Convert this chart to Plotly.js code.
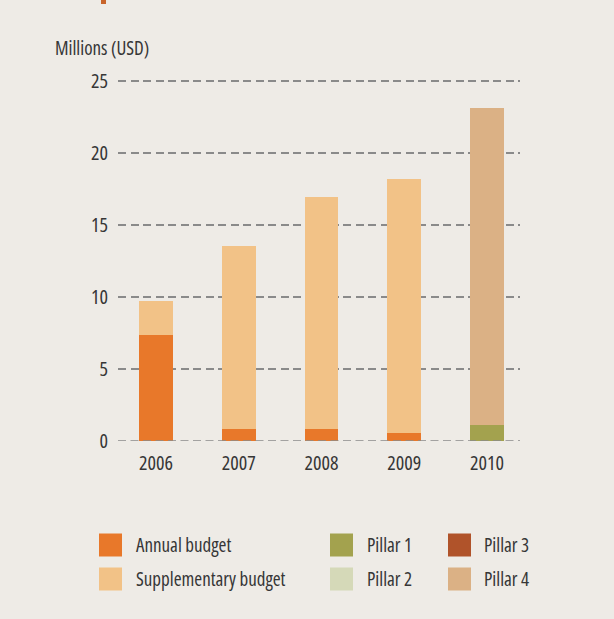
<!DOCTYPE html>
<html>
<head>
<meta charset="utf-8">
<script src="https://cdn.plot.ly/plotly-3.0.1.min.js"></script>
<style>
html,body{margin:0;padding:0;background:#eeebe6;}
#chart{width:614px;height:619px;}
#chart text{font-stretch:75% !important;}
</style>
</head>
<body>
<div id="chart"></div>
<script>
const years = ['2006', '2007', '2008', '2009', '2010'];
const annualBudget = [7.36, 0.81, 0.81, 0.58, 0];
const supplementaryBudget = [2.38, 12.73, 16.16, 17.59, 0];
const pillar1 = [0, 0, 0, 0, 1.1];
const pillar2 = [0, 0, 0, 0, 0];
const pillar3 = [0, 0, 0, 0, 0];
const pillar4 = [0, 0, 0, 0, 22.0];
const yTicks = [0, 5, 10, 15, 20, 25];
const yAxisLabel = 'Millions (USD)';

const colors = {
  annual: '#e8782a',
  supp: '#f2c287',
  p1: '#a3a24e',
  p2: '#d5d9b8',
  p3: '#b0532a',
  p4: '#dbb185'
};

const series = [
  {name: 'Annual budget', y: annualBudget, color: colors.annual},
  {name: 'Supplementary budget', y: supplementaryBudget, color: colors.supp},
  {name: 'Pillar 1', y: pillar1, color: colors.p1},
  {name: 'Pillar 2', y: pillar2, color: colors.p2},
  {name: 'Pillar 3', y: pillar3, color: colors.p3},
  {name: 'Pillar 4', y: pillar4, color: colors.p4}
];

const traces = series.map(s => ({
  type: 'bar', x: years, y: s.y, name: s.name,
  marker: {color: s.color, line: {width: 0}},
  width: 0.41, showlegend: false, hoverinfo: 'x+y+name'
}));

const font = 'Open Sans, sans-serif';
const textColor = '#363636';

// manual legend (paper coordinates derived from pixel layout)
const W = 614, H = 619, ml = 118, mr = 94, mt = 79, mb = 178;
const pw = W - ml - mr, ph = H - mt - mb;
const px = x => (x - ml) / pw;
const py = y => (H - mb - y) / ph;
const legendItems = [
  {name: 'Annual budget', color: colors.annual, sx: 99, tx: 134, cy: 545},
  {name: 'Supplementary budget', color: colors.supp, sx: 99, tx: 134, cy: 579},
  {name: 'Pillar 1', color: colors.p1, sx: 330, tx: 365, cy: 545},
  {name: 'Pillar 2', color: colors.p2, sx: 330, tx: 365, cy: 579},
  {name: 'Pillar 3', color: colors.p3, sx: 448, tx: 482, cy: 545},
  {name: 'Pillar 4', color: colors.p4, sx: 448, tx: 482, cy: 579}
];
const shapes = [];
const annotations = [];
legendItems.forEach(it => {
  shapes.push({type: 'rect', xref: 'paper', yref: 'paper',
    x0: px(it.sx), x1: px(it.sx + 23), y0: py(it.cy + 11.5), y1: py(it.cy - 11.5),
    fillcolor: it.color, line: {width: 0}});
  annotations.push({xref: 'paper', yref: 'paper', x: px(it.tx), y: py(it.cy),
    xanchor: 'left', yanchor: 'middle', align: 'left', showarrow: false, text: it.name,
    font: {family: font, size: 19, color: textColor}});
});
// dashed baseline drawn over the bars
shapes.push({type: 'line', xref: 'paper', yref: 'y', x0: 0, x1: 1, y0: 0, y1: 0,
  line: {color: '#8a8a8a', width: 1.6, dash: '8px,4.5px'}, layer: 'above'});
// small orange fragment at top (cut-off heading marker)
shapes.push({type: 'rect', xref: 'paper', yref: 'paper',
  x0: px(101), x1: px(106), y0: py(4), y1: py(0),
  fillcolor: '#c8642a', line: {width: 0}});
// y-axis label
annotations.push({xref: 'paper', yref: 'paper', x: px(53), y: py(48),
  xanchor: 'left', yanchor: 'middle', align: 'left', showarrow: false, text: yAxisLabel,
  font: {family: font, size: 19, color: textColor}});

const layout = {
  width: W, height: H,
  margin: {l: ml, r: mr, t: mt, b: mb, pad: 0},
  paper_bgcolor: '#eeebe6', plot_bgcolor: 'rgba(0,0,0,0)',
  barmode: 'stack',
  font: {family: font, size: 19, color: textColor},
  xaxis: {type: 'category', range: [-0.46, 4.4], showgrid: false, zeroline: false,
    showline: false, ticks: '', ticklabelstandoff: 8,
    tickfont: {family: font, size: 20, color: textColor}},
  yaxis: {range: [0, 25.14], tickvals: yTicks, showgrid: true, gridcolor: '#8a8a8a',
    gridwidth: 1.6, griddash: '8px,4.5px', zeroline: false, showline: false,
    ticks: '', ticklabelstandoff: 9, tickfont: {family: font, size: 20, color: textColor}},
  shapes: shapes, annotations: annotations,
  showlegend: false
};

Plotly.newPlot('chart', traces, layout, {displayModeBar: false, staticPlot: true});
</script>
</body>
</html>
